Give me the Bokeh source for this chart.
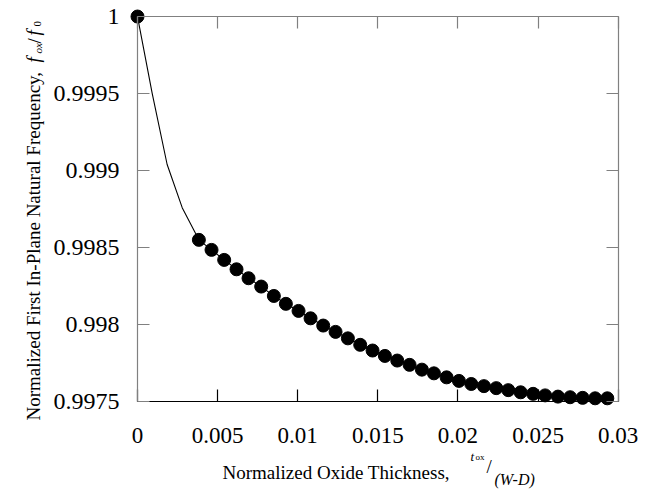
import math
from bokeh.plotting import figure
from bokeh.models import (Range1d, LinearAxis, FixedTicker, Label, ColumnDataSource,
                          CustomJSTickFormatter)
from bokeh.embed import file_html
from bokeh.resources import INLINE

# ---- data ----
# leading line vertices (no markers)
lead_thickness = [0.0, 0.00092, 0.00185, 0.00279]
lead_freq = [1.0, 0.99950, 0.99904, 0.99876]

# marked points
mark_thickness = [0.00383, 0.00462, 0.00541, 0.00618, 0.00693, 0.00772, 0.00851,
                  0.00926, 0.01005, 0.01080, 0.01159, 0.01236, 0.01313, 0.01390,
                  0.01467, 0.01544, 0.01621, 0.01698, 0.01775, 0.01850, 0.01929,
                  0.02006, 0.02083, 0.02162, 0.02239, 0.02314, 0.02391, 0.02469,
                  0.02544, 0.02624, 0.02700, 0.02778, 0.02856, 0.02932]
mark_freq = [0.998551, 0.998486, 0.998421, 0.998360, 0.998302, 0.998248, 0.998187,
             0.998136, 0.998090, 0.998042, 0.997995, 0.997954, 0.997912, 0.997870,
             0.997833, 0.997798, 0.997768, 0.997740, 0.997709, 0.997685, 0.997659,
             0.997636, 0.997616, 0.997602, 0.997589, 0.997576, 0.997562, 0.997552,
             0.997542, 0.997534, 0.997530, 0.997526, 0.997523, 0.997523]

x_ticks = [0.0, 0.005, 0.01, 0.015, 0.02, 0.025, 0.03]
x_tick_labels = ["0", "0.005", "0.01", "0.015", "0.02", "0.025", "0.03"]
y_ticks = [0.9975, 0.998, 0.9985, 0.999, 0.9995, 1.0]
y_tick_labels = ["0.9975", "0.998", "0.9985", "0.999", "0.9995", "1"]

x_title = "Normalized Oxide Thickness,"
y_title = "Normalized First In-Plane Natural Frequency,"

FONT = "Liberation Serif"
GRAY = "#808080"
W, H = 655, 500

line_src = ColumnDataSource(dict(x=lead_thickness + mark_thickness,
                                 y=lead_freq + mark_freq))
mark_src = ColumnDataSource(dict(x=[lead_thickness[0]] + mark_thickness,
                                 y=[lead_freq[0]] + mark_freq))

# the frame covers the whole canvas; the axes are pinned at the data box edges
p = figure(output_backend="svg", toolbar_location=None,
           x_range=Range1d(-0.00855, 0.032328), y_range=Range1d(0.996860, 1.000104),
           frame_width=W, frame_height=H,
           min_border_left=0, min_border_right=0, min_border_top=0,
           min_border_bottom=0, x_axis_type=None, y_axis_type=None)
p.outline_line_color = None
p.xgrid.visible = False
p.ygrid.visible = False
p.background_fill_color = "white"
p.border_fill_color = "white"

LOOKUP = """
let best = -1, bd = 1e9;
for (let i = 0; i < tvals.length; i++) {
  const d = Math.abs(tvals[i] - tick);
  if (d < bd) { bd = d; best = i; }
}
return (best >= 0 && bd < 1e-7) ? tlabels[best] : "";
"""


def style_axis(ax, ticks, labels, color, show_labels, standoff, fsize):
    ax.ticker = FixedTicker(ticks=ticks)
    ax.formatter = CustomJSTickFormatter(args=dict(tvals=ticks, tlabels=labels),
                                         code=LOOKUP)
    ax.axis_line_color = color
    ax.axis_line_width = 1.2
    ax.major_tick_line_color = color
    ax.major_tick_line_width = 1.2
    ax.major_tick_in = 12
    ax.major_tick_out = 0
    ax.minor_tick_line_color = None
    ax.major_label_standoff = standoff
    ax.major_label_text_font = FONT
    ax.major_label_text_font_size = fsize
    ax.major_label_text_font_style = "normal"
    ax.major_label_text_color = "black"
    if not show_labels:
        ax.major_label_text_alpha = 0
        ax.major_label_text_font_size = "1px"


xb = LinearAxis(fixed_location=0.9975, bounds=(0.0, 0.03))
p.add_layout(xb, "below")
style_axis(xb, x_ticks, x_tick_labels, "black", True, 26, "23px")

xt = LinearAxis(fixed_location=1.0, bounds=(0.0, 0.03))
p.add_layout(xt, "above")
style_axis(xt, x_ticks, x_tick_labels, GRAY, False, 0, "1px")

yl = LinearAxis(fixed_location=0.0, bounds=(0.9975, 1.0))
p.add_layout(yl, "left")
style_axis(yl, y_ticks, y_tick_labels, GRAY, True, 18, "24px")

yr = LinearAxis(fixed_location=0.03, bounds=(0.9975, 1.0))
p.add_layout(yr, "right")
style_axis(yr, y_ticks, y_tick_labels, GRAY, False, 0, "1px")

p.line("x", "y", source=line_src, line_color="black", line_width=1.1)
p.scatter("x", "y", source=mark_src, size=13, marker="circle",
          fill_color="black", line_color="black")


def lab(text, sx, sy, size, italic=False, angle=0.0):
    p.add_layout(Label(x=sx, y=sy, x_units="screen", y_units="screen", text=text,
                       text_font=FONT, text_font_size=size,
                       text_font_style="italic" if italic else "normal",
                       text_color="black", angle=angle, text_align="left",
                       text_baseline="alphabetic"))


# y-axis title (rotated)
R = math.pi / 2
lab(y_title, 33, 80, "19px", angle=R)
lab("f", 33, 438, "19px", italic=True, angle=R)
lab("ox", 37, 447, "11px", italic=True, angle=R)
lab("/", 34, 457, "19px", angle=R)
lab("f", 33, 465, "19px", italic=True, angle=R)
lab("0", 37, 474, "11px", angle=R)

# x-axis title
lab(x_title, 222, 28, "19px")
lab("t", 470, 44, "13px", italic=True)
lab("ox", 475, 44, "9px")
lab("/", 486, 34, "19px")
lab("(W-D)", 494, 21, "16px", italic=True)

open("out.html", "w").write(file_html(p, INLINE))
